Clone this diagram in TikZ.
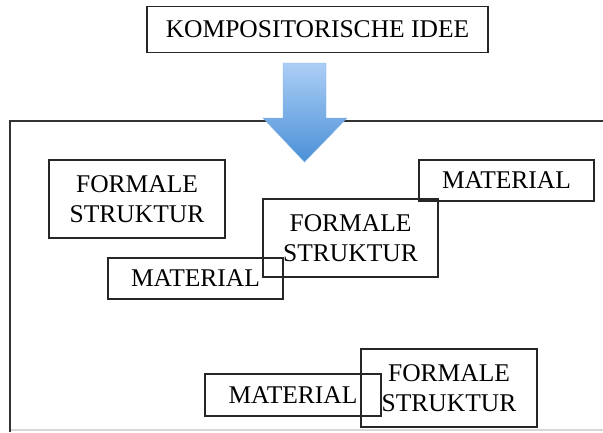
\documentclass[tikz,border=0pt]{standalone}
\usepackage{fontspec}
\setmainfont{Liberation Serif}
\definecolor{arrowtop}{RGB}{172,206,246}
\definecolor{arrowbot}{RGB}{74,144,214}
\definecolor{framegrey}{RGB}{215,215,215}
\begin{document}
\begin{tikzpicture}[x=1pt,y=-1pt,
  box/.style={draw=black!85,line width=1.3pt,inner sep=0pt,align=center,
    font=\fontsize{25.5}{30}\selectfont},
  framestyle/.style={draw=black!80,line width=1.3pt}]
\useasboundingbox (0,0) rectangle (603,432);
% frame
\draw[framegrey,line width=1.5pt] (10,430) -- (603,430);
\draw[framestyle] (603,121) -- (10,121) -- (10,432);
% top box
\node[box,minimum width=341pt,minimum height=46pt] (idee) at (317.5,29.5) {KOMPOSITORISCHE IDEE};
% arrow
\shade[top color=arrowtop,bottom color=arrowbot,draw=arrowbot!70!white,line width=0.4pt]
  (283,63) -- (326,63) -- (326,118) -- (347,118) -- (304.5,162) -- (263,118) -- (283,118) -- cycle;
% boxes
\node[box,minimum width=176pt,minimum height=78pt] (fs1) at (137,199) {FORMALE\\STRUKTUR};
\node[box,minimum width=175pt,minimum height=41pt] (mat1) at (506.5,180.5) {MATERIAL};
\node[box,minimum width=175pt,minimum height=78pt] (fs2) at (350.5,238) {FORMALE\\STRUKTUR};
\node[box,minimum width=175pt,minimum height=41pt] (mat2) at (195.5,278.5) {MATERIAL};
\node[box,minimum width=176pt,minimum height=78pt] (fs3) at (449,388) {FORMALE\\STRUKTUR};
\node[box,minimum width=176pt,minimum height=42pt] (mat3) at (293,395) {MATERIAL};
\end{tikzpicture}
\end{document}
